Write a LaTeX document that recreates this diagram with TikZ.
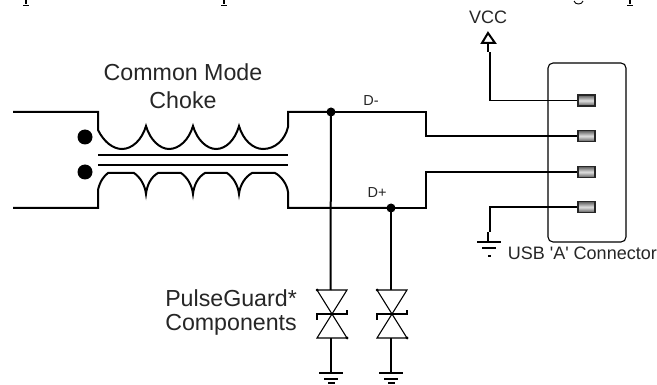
\documentclass[tikz,border=0pt]{standalone}
\usepackage{fontspec}
\setmainfont{Liberation Sans}
\newfontfamily\straightfont{Liberation Sans}
\begin{document}
\begin{tikzpicture}[x=1pt,y=-1pt,
  thick wire/.style={line width=2pt},
  thin wire/.style={line width=1.2pt},
  lbl/.style={inner sep=0pt,text=black!85},
  big/.style={font=\fontsize{23.2}{26}\selectfont},
  mid/.style={font=\fontsize{18}{21}\selectfont},
  small/.style={font=\fontsize{14.5}{17}\selectfont},
  pin/.style={draw=black!85,line width=1.5pt,inner sep=0pt,minimum width=17pt,minimum height=11pt,left color=black!65,right color=black!65,middle color=black!12,shading angle=0},
  junction/.style={circle,fill=black,inner sep=0pt,minimum size=9pt},
  dot/.style={circle,fill=black,inner sep=0pt,minimum size=15pt}]
\useasboundingbox (0,0) rectangle (657,385);
\fill[white] (0,0) rectangle (657,385);
% remains of the cut-off line of text above
\foreach \x in {26,224,630}{
  \draw[line width=1.2pt] (\x,0) -- (\x,4.5);
  \draw[line width=0.9pt] (\x-3,5) -- (\x+3,5);
}
\draw[line width=0.9pt] (574,1) .. controls (575,5) and (582,5) .. (583,1);
% labels
\node[lbl,big] (t1) at (183,72) {Common Mode};
\node[lbl,big] (t2) at (183,100) {Choke};
\node[lbl,mid] (vcc) at (488,17) {VCC};
\node[lbl,small] (dm) at (371,101) {D-};
\node[lbl,small] (dp) at (377,193) {D+};
\node[lbl,mid,anchor=east] (usb) at (657,253) {\straightfont USB 'A' Connector};
\node[lbl,big,anchor=east] (pg1) at (297,298) {PulseGuard*};
\node[lbl,big,anchor=east] (pg2) at (297,325) {Components};
% junctions
\node[junction] (j1) at (331,112) {};
\node[junction] (j2) at (391,208) {};
% choke
\coordinate (tl) at (13,112); \coordinate (tl2) at (98,112);
\coordinate (bl) at (13,208); \coordinate (bl2) at (98,208);
\draw[thick wire] (tl) -- (tl2) -- (98,130) .. controls (104,142) and (113,149) .. (122,149)
 .. controls (132,149) and (142,140) .. (146,126) .. controls (150,140) and (160,149) .. (169,149)
 .. controls (179,149) and (189,140) .. (193,126) .. controls (197,140) and (207,149) .. (216,149)
 .. controls (226,149) and (235,140) .. (239,126) .. controls (243,140) and (253,149) .. (263,149)
 .. controls (275,149) and (285,140) .. (288,127) -- (288,112) -- (j1.center);
\draw[thick wire] (bl) -- (bl2) -- (98,190) .. controls (100,181) and (104,176) .. (108,173)
 -- (134,173) .. controls (140,177) and (145,185) .. (146,194) .. controls (147,185) and (151,177) .. (158,173)
 -- (181,173) .. controls (187,177) and (192,185) .. (193,194) .. controls (194,185) and (198,177) .. (205,173)
 -- (227,173) .. controls (233,177) and (238,185) .. (239,194) .. controls (240,185) and (245,177) .. (252,173)
 -- (275,173) .. controls (281,176) and (287,184) .. (288,192) -- (288,208) -- (j2.center);
\draw[thick wire] (98,155) -- (288,155);
\draw[thick wire] (98,165) -- (288,165);
\node[dot] (d1) at (85,137) {};
\node[dot] (d2) at (85,172) {};
% connector body
\draw[line width=1.1pt,rounded corners=5pt] (548,63) rectangle (626,242);
% pins
\coordinate (vccfoot) at (490,52);
\coordinate (gndtop) at (490,232);
\draw[thick wire] (j1.center) -- (426,112) -- (426,136) -- (586,136);
\draw[thick wire] (j2.center) -- (426,208) -- (426,172) -- (586,172);
\draw[thin wire] (586,100.5) -- (490,100.5) -- (vccfoot);
\draw[thin wire] (586,207) -- (490,207) -- (gndtop);
\node[pin] (p1) at (586.5,100.5) {};
\node[pin,line width=1.9pt] (p2) at (586.5,136) {};
\node[pin] (p3) at (586.5,172) {};
\node[pin] (p4) at (586.5,207) {};
% VCC arrow
\draw[line width=2.2pt] (488,52) -- (488,43);
\draw[line width=2pt,line join=miter] (488,33) -- (482,43) -- (495,43) -- cycle;
% ground
\draw[line width=2pt] (488,232) -- (488,242);
\foreach \x/\y in {489/242,331/373,391/373}{
  \draw[line width=2pt] (\x-12,\y) -- (\x+12,\y);
  \draw[line width=2pt] (\x-7,\y+6) -- (\x+7,\y+6);
}
\draw[line width=2pt] (488,256) -- (491,256);
\draw[line width=2pt] (328,383) -- (335,383);
\draw[line width=2pt] (388,383) -- (395,383);
% TVS
\foreach \x in {332,392}{
  \draw[line width=1.1pt] (\x-15,290) -- (\x+15,338) -- (\x-15,338) -- (\x+15,290) -- cycle;
  \draw[line width=2pt] (\x-15,320) -- (\x-15,314) -- (\x+15,314) -- (\x+15,310);
  \fill (\x-15,290) circle (1.5pt);
  \fill (\x+15,338) circle (1.5pt);
}
\draw[thick wire] (j1.center) -- (330.5,290);
\draw[thick wire] (j2.center) -- (391,290);
\draw[thick wire] (330.5,338) -- (330.5,373);
\draw[thick wire] (391,338) -- (391,373);
\end{tikzpicture}
\end{document}
